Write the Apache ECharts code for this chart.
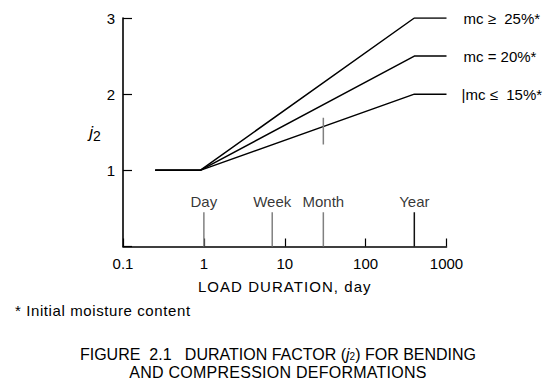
<!DOCTYPE html>
<html><head><meta charset="utf-8">
<script src="https://cdn.jsdelivr.net/npm/echarts@6/dist/echarts.min.js"></script>
<style>html,body{margin:0;padding:0;background:#fff}#c{width:552px;height:389px}</style>
</head><body><div id="c"></div>
<script>
// ---- data ----
const xTickValues = [0.1, 1, 10, 100, 1000];
const yTickValues = [1, 2, 3];
const seriesNames = ['mc ≥  25%*', 'mc = 20%*', 'mc ≤  15%*'];
const durations = [0.25, 0.9, 400, 1000];
const j2High = [1, 1, 3, 3];
const j2Mid = [1, 1, 2.5, 2.5];
const j2Low = [1, 1, 2, 2];
const markerNames = ['Day', 'Week', 'Month', 'Year'];
const markerDays = [1, 7, 30, 400];
const markerTop = 0.45;
const monthTickDay = 30;
const monthTickRange = [1.34, 1.69];
const xName = 'LOAD DURATION, day';
const footnote = '* Initial moisture content';
const caption1 = 'FIGURE  2.1   DURATION FACTOR ({i|j}{s|2}) FOR BENDING';
const caption2 = 'AND COMPRESSION DEFORMATIONS';

const FONT = 'Liberation Sans, Arial, sans-serif';
const chart = echarts.init(document.getElementById('c'), null, {renderer: 'svg'});

function mainSeries(name, ys, labelFmt, rich, dist) {
  return {
    type: 'line', name: name, symbol: 'none', animation: false,
    data: durations.map((d, i) => [d, ys[i]]),
    lineStyle: {color: '#000', width: 1.5},
    endLabel: {show: true, formatter: labelFmt, distance: dist || 17, color: '#000',
      fontSize: 15, fontFamily: FONT, rich: rich || {}},
    silent: true
  };
}

const series = [
  mainSeries(seriesNames[0], j2High, seriesNames[0]),
  mainSeries(seriesNames[1], j2Mid, seriesNames[1]),
  mainSeries(seriesNames[2], j2Low, '{bar||}{t|' + seriesNames[2] + '}', {
    bar: {width: 4, fontSize: 15, fontFamily: FONT, color: '#000'},
    t: {fontSize: 15, fontFamily: FONT, color: '#000'}
  }, 15)
];
markerDays.forEach((d, i) => {
  series.push({
    type: 'line', symbol: 'none', animation: false, silent: true,
    data: [[d, 0], [d, markerTop]],
    lineStyle: {color: markerNames[i] === 'Year' ? '#111' : '#808080', width: 1.5}
  });
});
series.push({
  type: 'scatter', animation: false, silent: true, symbolSize: 1,
  itemStyle: {color: 'rgba(0,0,0,0)'},
  data: markerDays.map((d, i) => ({value: [d, markerTop], name: markerNames[i]})),
  label: {show: true, position: 'top', distance: 3, formatter: '{b}', color: '#000',
    fontSize: 15, fontFamily: FONT}
});
series.push({
  type: 'line', symbol: 'none', animation: false, silent: true,
  data: [[monthTickDay, monthTickRange[0]], [monthTickDay, monthTickRange[1]]],
  lineStyle: {color: '#808080', width: 1.5}
});

chart.setOption({
  animation: false,
  backgroundColor: '#fff',
  grid: {left: 123, top: 18, width: 323.5, height: 228.5},
  xAxis: {
    type: 'log', logBase: 10, min: 0.1, max: 1000,
    name: xName, nameLocation: 'middle', nameGap: 32,
    nameTextStyle: {color: '#000', fontSize: 15, fontFamily: FONT},
    axisLine: {lineStyle: {color: '#000', width: 1.6}},
    axisTick: {inside: true, length: 8, lineStyle: {color: '#000', width: 1.2}},
    axisLabel: {color: '#000', fontSize: 15, fontFamily: FONT, margin: 9,
      formatter: v => {
        const r = +(+v).toPrecision(6);
        return xTickValues.indexOf(r) >= 0 ? String(r) : '';
      }},
    splitLine: {show: false}, minorTick: {show: false}
  },
  yAxis: {
    type: 'value', min: 0, max: 3, interval: 1,
    name: '{i|j}{s|2}', nameLocation: 'middle', nameGap: 21, nameRotate: 0,
    nameTextStyle: {rich: {
      i: {fontSize: 17, fontStyle: 'italic', fontFamily: FONT, color: '#000'},
      s: {fontSize: 14, fontFamily: FONT, color: '#000', padding: [8, 0, 0, 0]}
    }},
    axisLine: {lineStyle: {color: '#000', width: 1.6}},
    axisTick: {inside: true, length: 9, lineStyle: {color: '#000', width: 1.2}},
    axisLabel: {color: '#000', fontSize: 15, fontFamily: FONT, margin: 8,
      formatter: v => (yTickValues.indexOf(v) >= 0 ? String(v) : '')},
    splitLine: {show: false}
  },
  graphic: [
    {type: 'text', left: 15, top: 303, silent: true,
      style: {text: footnote, font: '15px ' + FONT, fill: '#000'}},
    {type: 'text', x: 278, y: 354, silent: true,
      style: {text: caption1, font: '16px ' + FONT, fill: '#000',
        align: 'center', verticalAlign: 'middle', textAlign: 'center', textVerticalAlign: 'middle',
        rich: {
          i: {fontSize: 16, fontStyle: 'italic', fontFamily: FONT, fill: '#000'},
          s: {fontSize: 10, fontFamily: FONT, fill: '#000', padding: [5, 0, 0, 0]}
        }}},
    {type: 'text', x: 278, y: 372, silent: true,
      style: {text: caption2, font: '16px ' + FONT, fill: '#000',
        align: 'center', verticalAlign: 'middle', textAlign: 'center', textVerticalAlign: 'middle'}}
  ],
  series: series
});

function applySpacing() {
  document.querySelectorAll('#c text').forEach(t => {
    const s = t.textContent;
    if (s === xName) t.style.letterSpacing = '1.05px';
    else if (s === footnote) t.style.letterSpacing = '0.6px';
    else if (s === caption2) t.style.letterSpacing = '0.25px';
  });
}
chart.on('finished', applySpacing);
applySpacing();
setTimeout(applySpacing, 0);
</script>
</body></html>
